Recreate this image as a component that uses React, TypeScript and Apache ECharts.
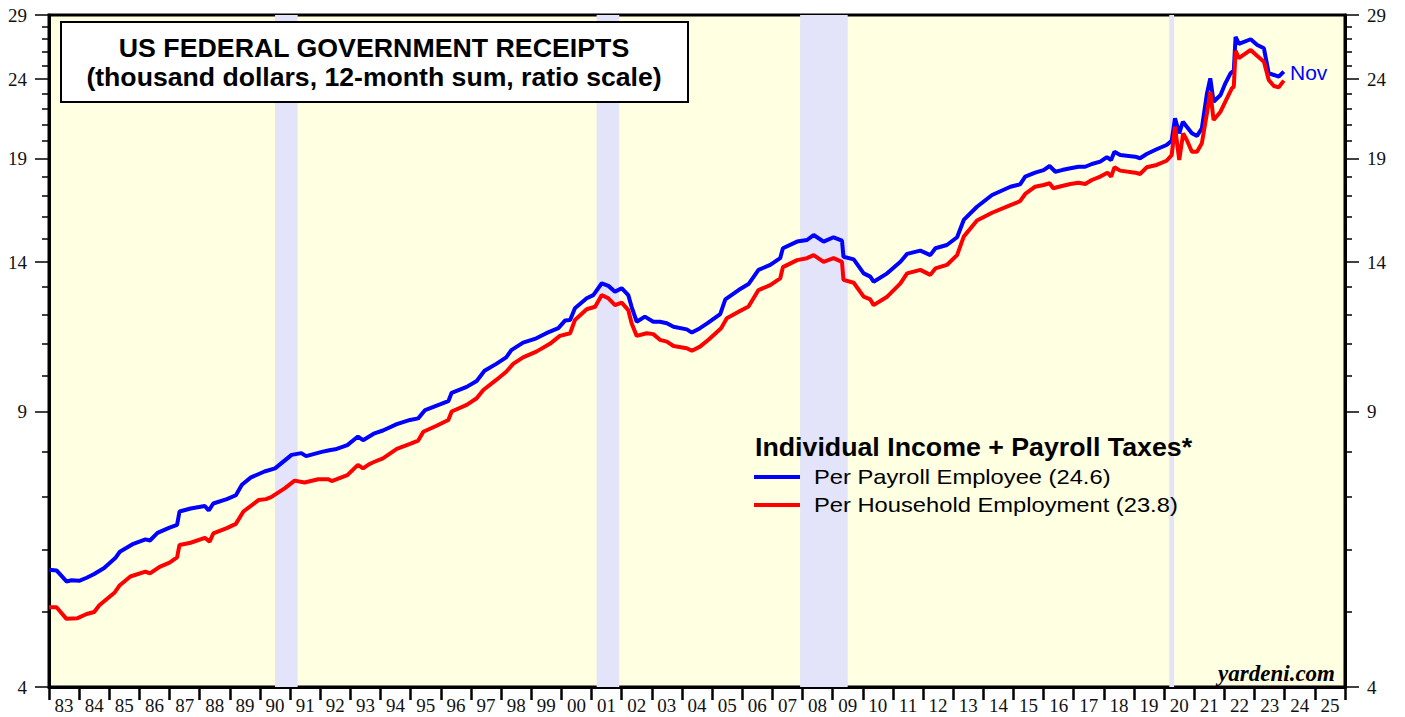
import React, { useEffect, useRef } from "react";
import * as echarts from "echarts";

const yearLabels: string[] = [
  "83", "84", "85", "86", "87", "88", "89", "90", "91", "92", "93", "94", "95", "96", "97",
  "98", "99", "00", "01", "02", "03", "04", "05", "06", "07", "08", "09", "10", "11", "12",
  "13", "14", "15", "16", "17", "18", "19", "20", "21", "22", "23", "24", "25",
];

const majorTicks: number[] = [4, 9, 14, 19, 24, 29];
const minorTicks: number[] = [
  5, 6, 7, 8, 10, 11, 12, 13, 15, 16, 17, 18, 20, 21, 22, 23, 25, 26, 27, 28,
];

const recessions: [number, number][] = [
  [1990.5, 1991.25],
  [2001.17, 2001.92],
  [2007.92, 2009.5],
  [2020.17, 2020.33],
];

// Per Payroll Employee (blue): [year, thousand dollars]
const payrollEmployee: [number, number][] = [
  [1983.0, 5.65], [1983.25, 5.64], [1983.58, 5.46], [1983.75, 5.48], [1984.0, 5.47],
  [1984.25, 5.52], [1984.5, 5.58], [1984.83, 5.68], [1985.2, 5.85], [1985.35, 5.96],
  [1985.8, 6.1], [1986.2, 6.18], [1986.35, 6.16], [1986.6, 6.3], [1987.0, 6.4],
  [1987.25, 6.45], [1987.33, 6.71], [1987.7, 6.77], [1988.17, 6.82], [1988.3, 6.73],
  [1988.45, 6.87], [1988.9, 6.96], [1989.2, 7.04], [1989.4, 7.26], [1989.7, 7.42],
  [1990.15, 7.55], [1990.5, 7.62], [1991.05, 7.93], [1991.37, 7.97], [1991.53, 7.9],
  [1992.05, 8.0], [1992.3, 8.04], [1992.5, 8.06], [1992.9, 8.16], [1993.25, 8.37],
  [1993.42, 8.28], [1993.8, 8.45], [1994.08, 8.52], [1994.54, 8.68], [1994.98, 8.79],
  [1995.25, 8.83], [1995.48, 9.05], [1995.97, 9.2], [1996.25, 9.29], [1996.36, 9.52],
  [1996.86, 9.69], [1997.19, 9.86], [1997.45, 10.16], [1997.84, 10.37], [1998.17, 10.57],
  [1998.34, 10.8], [1998.73, 11.04], [1999.17, 11.18], [1999.5, 11.35], [1999.9, 11.52],
  [2000.12, 11.78], [2000.29, 11.8], [2000.45, 12.22], [2000.84, 12.58], [2001.06, 12.7],
  [2001.34, 13.15], [2001.56, 13.05], [2001.78, 12.83], [2002.0, 12.96], [2002.22, 12.7],
  [2002.33, 12.27], [2002.5, 11.74], [2002.77, 11.92], [2003.05, 11.74], [2003.27, 11.74],
  [2003.5, 11.69], [2003.72, 11.57], [2004.16, 11.48], [2004.33, 11.37], [2004.6, 11.52],
  [2004.85, 11.69], [2005.27, 12.01], [2005.44, 12.54], [2005.88, 12.89], [2006.21, 13.12],
  [2006.54, 13.68], [2006.93, 13.88], [2007.26, 14.16], [2007.35, 14.58], [2007.82, 14.87],
  [2008.15, 14.94], [2008.37, 15.16], [2008.7, 14.87], [2009.03, 15.06], [2009.31, 14.91],
  [2009.36, 14.22], [2009.7, 14.11], [2010.03, 13.54], [2010.25, 13.41], [2010.36, 13.21],
  [2010.81, 13.54], [2011.25, 14.01], [2011.47, 14.34], [2011.91, 14.48], [2012.24, 14.29],
  [2012.41, 14.58], [2012.79, 14.72], [2013.13, 15.06], [2013.35, 15.85], [2013.79, 16.48],
  [2014.29, 17.06], [2014.9, 17.48], [2015.22, 17.6], [2015.39, 18.01], [2015.72, 18.22],
  [2016.0, 18.36], [2016.2, 18.58], [2016.39, 18.27], [2016.61, 18.36], [2016.89, 18.46],
  [2017.16, 18.54], [2017.38, 18.54], [2017.6, 18.69], [2017.88, 18.82], [2018.1, 19.07],
  [2018.24, 18.91], [2018.35, 19.38], [2018.54, 19.19], [2019.04, 19.1], [2019.2, 19.01],
  [2019.42, 19.25], [2019.75, 19.52], [2020.08, 19.77], [2020.25, 20.02], [2020.36, 21.39],
  [2020.5, 20.46], [2020.62, 21.17], [2020.75, 20.86], [2020.92, 20.46], [2021.09, 20.3],
  [2021.25, 20.76], [2021.42, 23.02], [2021.53, 24.06], [2021.64, 22.46], [2021.87, 22.91],
  [2022.03, 23.71], [2022.2, 24.42], [2022.31, 24.61], [2022.37, 27.2], [2022.48, 26.63],
  [2022.87, 27.0], [2023.09, 26.55], [2023.31, 26.29], [2023.47, 24.42], [2023.64, 24.3],
  [2023.8, 24.18], [2023.97, 24.54],
];

// Per Household Employment (red): [year, thousand dollars]
const householdEmployment: [number, number][] = [
  [1983.0, 5.06], [1983.25, 5.06], [1983.58, 4.89], [1983.95, 4.9], [1984.25, 4.96],
  [1984.5, 4.99], [1984.67, 5.09], [1985.17, 5.28], [1985.35, 5.4], [1985.7, 5.54],
  [1986.2, 5.62], [1986.35, 5.59], [1986.67, 5.7], [1987.0, 5.77], [1987.25, 5.86],
  [1987.33, 6.08], [1987.7, 6.12], [1988.17, 6.21], [1988.33, 6.14], [1988.45, 6.29],
  [1988.9, 6.39], [1989.2, 6.47], [1989.45, 6.71], [1989.95, 6.94], [1990.2, 6.96],
  [1990.37, 7.0], [1990.83, 7.19], [1991.15, 7.35], [1991.48, 7.31], [1991.93, 7.38],
  [1992.27, 7.38], [1992.38, 7.34], [1992.9, 7.47], [1993.25, 7.7], [1993.42, 7.62],
  [1993.64, 7.72], [1993.8, 7.77], [1994.08, 7.85], [1994.54, 8.07], [1994.98, 8.19],
  [1995.25, 8.27], [1995.42, 8.49], [1995.86, 8.64], [1996.25, 8.79], [1996.36, 9.01],
  [1996.86, 9.19], [1997.19, 9.37], [1997.41, 9.6], [1997.84, 9.89], [1998.17, 10.13],
  [1998.4, 10.37], [1998.73, 10.57], [1999.17, 10.75], [1999.62, 11.0], [1999.95, 11.26],
  [2000.29, 11.35], [2000.45, 11.8], [2000.84, 12.18], [2001.12, 12.27], [2001.34, 12.7],
  [2001.56, 12.58], [2001.78, 12.33], [2002.0, 12.42], [2002.22, 12.15], [2002.33, 11.69],
  [2002.5, 11.26], [2002.83, 11.35], [2003.05, 11.32], [2003.27, 11.13], [2003.5, 11.07],
  [2003.72, 10.93], [2004.16, 10.86], [2004.33, 10.78], [2004.6, 10.91], [2004.9, 11.15],
  [2005.3, 11.52], [2005.49, 11.86], [2005.88, 12.09], [2006.21, 12.28], [2006.54, 12.89],
  [2006.93, 13.08], [2007.26, 13.34], [2007.35, 13.79], [2007.82, 14.08], [2008.15, 14.16],
  [2008.37, 14.29], [2008.7, 14.01], [2009.03, 14.16], [2009.31, 14.01], [2009.36, 13.28],
  [2009.7, 13.17], [2010.03, 12.64], [2010.25, 12.54], [2010.36, 12.33], [2010.81, 12.64],
  [2011.25, 13.15], [2011.47, 13.54], [2011.91, 13.68], [2012.24, 13.48], [2012.41, 13.74],
  [2012.79, 13.88], [2013.13, 14.29], [2013.35, 15.09], [2013.79, 15.82], [2014.29, 16.19],
  [2014.9, 16.56], [2015.22, 16.75], [2015.39, 17.11], [2015.72, 17.48], [2016.0, 17.57],
  [2016.2, 17.66], [2016.32, 17.4], [2016.61, 17.52], [2016.89, 17.62], [2017.16, 17.69],
  [2017.38, 17.62], [2017.6, 17.83], [2017.88, 18.01], [2018.12, 18.22], [2018.24, 18.01],
  [2018.35, 18.51], [2018.54, 18.33], [2019.04, 18.22], [2019.2, 18.15], [2019.42, 18.51],
  [2019.75, 18.64], [2020.08, 18.87], [2020.25, 19.19], [2020.36, 20.86], [2020.5, 18.91],
  [2020.63, 20.46], [2020.75, 20.06], [2020.92, 19.38], [2021.09, 19.38], [2021.25, 19.87],
  [2021.42, 21.71], [2021.53, 23.13], [2021.64, 21.28], [2021.87, 21.81], [2022.03, 22.46],
  [2022.25, 23.37], [2022.31, 23.48], [2022.37, 26.1], [2022.48, 25.53], [2022.87, 26.16],
  [2023.09, 25.7], [2023.31, 25.27], [2023.47, 23.94], [2023.64, 23.52], [2023.8, 23.43],
  [2023.97, 23.9],
];

const payrollName = "Per Payroll Employee (24.6)";
const householdName = "Per Household Employment (23.8)";
const BLUE = "#0000FF";
const RED = "#FF0000";

const SERIF = '"Liberation Serif", "DejaVu Serif", serif';
const SANS = '"Liberation Sans", Arial, sans-serif';

function logAxis(position: "left" | "right", major: boolean): any {
  return {
    type: "log",
    logBase: 10,
    min: 4,
    max: 29,
    position,
    gridIndex: 0,
    axisLine: { show: major, lineStyle: { color: "#000", width: 3 } },
    axisTick: {
      show: true,
      inside: false,
      length: major ? 14 : 7,
      customValues: major ? majorTicks : minorTicks,
      lineStyle: { color: "#000", width: 1.5 },
    },
    axisLabel: {
      show: major,
      customValues: majorTicks,
      margin: 22,
      fontFamily: SERIF,
      fontSize: 19,
      color: "#111",
      formatter: (v: number) => String(Math.round(v)),
    },
    splitLine: { show: false },
    minorTick: { show: false },
  };
}

function txt(
  text: string,
  x: number,
  y: number,
  font: string,
  align: string,
  fill = "#000",
  scaleX = 1
): any {
  return {
    type: "text",
    z: 101,
    x,
    y,
    scaleX,
    style: { text, font, fill, align, verticalAlign: "middle" },
  };
}

export default function App() {
  const ref = useRef<HTMLDivElement>(null);

  useEffect(() => {
    if (!ref.current) return;
    const chart = echarts.init(ref.current, null, { renderer: "svg" });

    const option: any = {
      animation: false,
      backgroundColor: "#fff",
      grid: {
        left: 49,
        right: 60,
        top: 15,
        bottom: 30,
        show: true,
        backgroundColor: "#FFFFE2",
        borderColor: "#000",
        borderWidth: 3,
      },
      xAxis: [
        {
          type: "category",
          data: yearLabels,
          boundaryGap: true,
          position: "bottom",
          axisLine: { show: true, lineStyle: { color: "#000", width: 3 } },
          axisTick: {
            show: true,
            interval: 0,
            length: 13,
            lineStyle: { color: "#000", width: 2.5 },
          },
          axisLabel: {
            interval: 0,
            margin: 9,
            fontFamily: SERIF,
            fontSize: 19,
            color: "#111",
          },
          splitLine: { show: false },
        },
        {
          type: "value",
          min: 1983,
          max: 2026,
          show: false,
          splitLine: { show: false },
        },
      ],
      yAxis: [
        logAxis("left", true),
        logAxis("left", false),
        logAxis("right", true),
        logAxis("right", false),
      ],
      series: [
        {
          name: payrollName,
          type: "line",
          xAxisIndex: 1,
          yAxisIndex: 0,
          data: payrollEmployee,
          showSymbol: false,
          symbol: "none",
          lineStyle: { color: BLUE, width: 4 },
          itemStyle: { color: BLUE },
          markArea: {
            silent: true,
            itemStyle: { color: "#E3E3FA", opacity: 1 },
            data: recessions.map(([a, b]) => [{ xAxis: a }, { xAxis: b }]),
          },
        },
        {
          name: householdName,
          type: "line",
          xAxisIndex: 1,
          yAxisIndex: 0,
          data: householdEmployment,
          showSymbol: false,
          symbol: "none",
          lineStyle: { color: RED, width: 4 },
          itemStyle: { color: RED },
        },
      ],
      graphic: [
        {
          type: "rect",
          z: 100,
          shape: { x: 61, y: 22, width: 627, height: 80 },
          style: { fill: "#fff", stroke: "#000", lineWidth: 2 },
        },
        txt("US FEDERAL GOVERNMENT RECEIPTS", 374, 48, `bold 25px ${SANS}`, "center", "#000", 1.07),
        txt("(thousand dollars, 12-month sum, ratio scale)", 374, 77, `bold 25px ${SANS}`, "center", "#000", 1.065),
        txt("Individual Income + Payroll Taxes*", 755, 447, `bold 25px ${SANS}`, "left", "#000", 1.07),
        {
          type: "line",
          z: 101,
          shape: { x1: 754, y1: 477, x2: 800, y2: 477 },
          style: { stroke: BLUE, lineWidth: 4 },
        },
        {
          type: "line",
          z: 101,
          shape: { x1: 754, y1: 505, x2: 800, y2: 505 },
          style: { stroke: RED, lineWidth: 4 },
        },
        txt(payrollName, 814, 477, `21px ${SANS}`, "left", "#000", 1.13),
        txt(householdName, 814, 505, `21px ${SANS}`, "left", "#000", 1.13),
        txt("Nov", 1290, 72, `21px ${SANS}`, "left", BLUE),
        txt("yardeni.com", 1335, 673, `italic bold 23px ${SERIF}`, "right"),
      ],
    };

    chart.setOption(option);
    return () => {
      chart.dispose();
    };
  }, []);

  return (
    <div
      ref={ref}
      style={{ position: "absolute", left: 0, top: 0, width: 1405, height: 717 }}
    />
  );
}
